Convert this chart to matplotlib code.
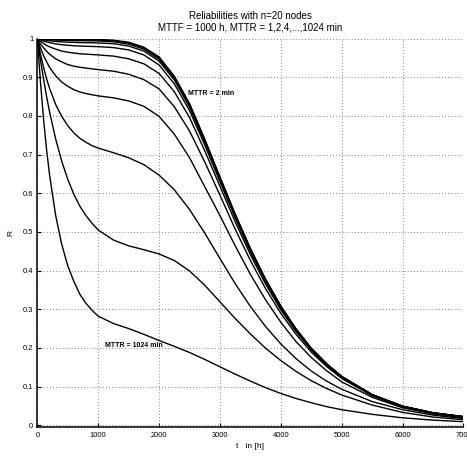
import matplotlib
matplotlib.use("Agg")
import matplotlib.pyplot as plt

plt.rcParams['font.family'] = ['Liberation Sans', 'DejaVu Sans']

# time axis [h]
t = [0, 50, 100, 150, 200, 300, 400, 500, 600, 700, 800, 900, 1000, 1250, 1500, 1750,
     2000, 2250, 2500, 2750, 3000, 3250, 3500, 3750, 4000, 4250, 4500, 4750, 5000,
     5500, 6000, 6500, 7000]

# reliability curves, one per MTTR [min]
r_1 = [1, 1, 1, 0.9998, 0.9997, 0.9994, 0.9992, 0.999, 0.9989, 0.9988, 0.9987, 0.9985,
       0.998, 0.996, 0.991, 0.978, 0.953, 0.903, 0.832, 0.740, 0.642, 0.546, 0.457, 0.377,
       0.308, 0.249, 0.199, 0.159, 0.126, 0.079, 0.049, 0.032, 0.022]
r_2 = [1, 0.9995, 0.9991, 0.9988, 0.9985, 0.9981, 0.9978, 0.9975, 0.9973, 0.9972, 0.9971,
       0.997, 0.9968, 0.995, 0.989, 0.976, 0.950, 0.901, 0.830, 0.738, 0.641, 0.545, 0.456,
       0.377, 0.3075, 0.2485, 0.1985, 0.1588, 0.1258, 0.079, 0.049, 0.032, 0.022]
r_4 = [1, 0.9992, 0.9984, 0.9978, 0.9973, 0.9965, 0.996, 0.9955, 0.9952, 0.995, 0.9948,
       0.9946, 0.9942, 0.992, 0.986, 0.973, 0.947, 0.898, 0.828, 0.736, 0.639, 0.544, 0.455,
       0.376, 0.307, 0.248, 0.198, 0.1585, 0.1255, 0.0788, 0.049, 0.032, 0.0219]
r_8 = [1, 0.9983, 0.9969, 0.9957, 0.9946, 0.993, 0.9919, 0.9911, 0.9905, 0.990, 0.9897,
       0.9895, 0.989, 0.987, 0.981, 0.968, 0.942, 0.893, 0.823, 0.732, 0.636, 0.541, 0.453,
       0.374, 0.305, 0.247, 0.197, 0.158, 0.125, 0.0785, 0.0488, 0.0318, 0.0218]
r_16 = [1, 0.9968, 0.994, 0.9917, 0.9898, 0.9867, 0.9845, 0.983, 0.9818, 0.981, 0.9804,
        0.980, 0.9795, 0.977, 0.971, 0.958, 0.932, 0.883, 0.814, 0.725, 0.630, 0.536, 0.449,
        0.371, 0.303, 0.245, 0.196, 0.157, 0.124, 0.078, 0.0485, 0.0315, 0.0215]
r_32 = [1, 0.9934, 0.988, 0.983, 0.979, 0.973, 0.968, 0.965, 0.963, 0.961, 0.960, 0.959,
        0.958, 0.955, 0.948, 0.935, 0.910, 0.863, 0.796, 0.710, 0.618, 0.526, 0.441, 0.365,
        0.298, 0.242, 0.194, 0.155, 0.123, 0.077, 0.048, 0.031, 0.021]
r_64 = [1, 0.987, 0.977, 0.968, 0.960, 0.948, 0.940, 0.933, 0.929, 0.926, 0.924, 0.922,
        0.920, 0.916, 0.908, 0.894, 0.870, 0.824, 0.761, 0.681, 0.595, 0.507, 0.426, 0.353,
        0.289, 0.235, 0.189, 0.152, 0.121, 0.076, 0.047, 0.030, 0.020]
r_128 = [1, 0.977, 0.957, 0.941, 0.926, 0.904, 0.888, 0.877, 0.868, 0.862, 0.858, 0.855,
         0.852, 0.847, 0.839, 0.825, 0.799, 0.753, 0.692, 0.617, 0.542, 0.464, 0.390, 0.324,
         0.266, 0.216, 0.175, 0.141, 0.112, 0.072, 0.045, 0.029, 0.019]
r_256 = [1, 0.961, 0.927, 0.897, 0.872, 0.830, 0.799, 0.775, 0.756, 0.742, 0.732, 0.723,
         0.717, 0.705, 0.692, 0.674, 0.647, 0.609, 0.558, 0.497, 0.431, 0.366, 0.307, 0.255,
         0.210, 0.172, 0.140, 0.114, 0.093, 0.061, 0.040, 0.026, 0.017]
r_512 = [1, 0.946, 0.897, 0.852, 0.811, 0.741, 0.683, 0.636, 0.597, 0.566, 0.542, 0.522,
         0.505, 0.479, 0.464, 0.454, 0.443, 0.426, 0.399, 0.362, 0.319, 0.276, 0.236, 0.199,
         0.167, 0.139, 0.115, 0.095, 0.078, 0.052, 0.033, 0.021, 0.014]
r_1024 = [1, 0.890, 0.795, 0.715, 0.648, 0.543, 0.468, 0.412, 0.372, 0.338, 0.315, 0.297,
          0.282, 0.263, 0.250, 0.235, 0.219, 0.204, 0.188, 0.170, 0.151, 0.132, 0.114, 0.097,
          0.082, 0.069, 0.058, 0.048, 0.040, 0.028, 0.019, 0.013, 0.009]

curves = [r_1, r_2, r_4, r_8, r_16, r_32, r_64, r_128, r_256, r_512, r_1024]

xticks = [0, 1000, 2000, 3000, 4000, 5000, 6000, 7000]
yticks = [0, 0.1, 0.2, 0.3, 0.4, 0.5, 0.6, 0.7, 0.8, 0.9, 1]
yticklabels = ['0', '0.1', '0.2', '0.3', '0.4', '0.5', '0.6', '0.7', '0.8', '0.9', '1']

fig = plt.figure(figsize=(4.67, 4.57), dpi=100)
ax = fig.add_axes([0.080, 0.0646, 0.9125, 0.8507])

for r in curves:
    ax.plot(t, r, color='black', linewidth=1.0)

ax.set_xlim(0, 7000)
ax.set_ylim(-0.006, 1)
ax.set_xticks(xticks)
ax.set_xticklabels([str(v) for v in xticks])
ax.set_yticks(yticks)
ax.set_yticklabels(yticklabels)
ax.tick_params(direction='in', length=3, width=0.8, labelsize=5.4, pad=3)

ax.grid(True, linestyle=(0, (1, 2.2)), color='#888888', linewidth=0.7)
ax.spines['top'].set_visible(False)
ax.spines['right'].set_visible(False)
ax.spines['left'].set_linewidth(1.1)
ax.spines['bottom'].set_linewidth(1.1)

ax.text(2470, 0.857, 'MTTR = 2 min', fontsize=5, fontweight='bold', va='center')
ax.text(1110, 0.205, 'MTTR = 1024 min', fontsize=5, fontweight='bold', va='center')

ax.set_title('Reliabilities with n=20 nodes\nMTTF = 1000 h, MTTR = 1,2,4,...,1024 min',
             fontsize=7, linespacing=1.15, pad=6)
ax.set_xlabel('t   in [h]', fontsize=6, labelpad=3)
ax.set_ylabel('R', fontsize=6, labelpad=6)

fig.savefig('out.png', dpi=100)
